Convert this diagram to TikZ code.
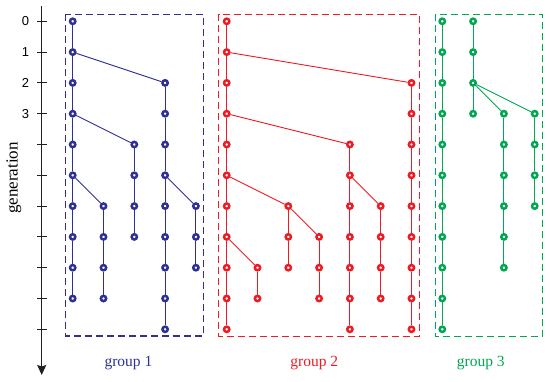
\documentclass[tikz,border=0pt]{standalone}
\usepackage{fontspec}
\setmainfont{Liberation Serif}
\newfontfamily\digitfont{Liberation Sans}
\usetikzlibrary{arrows.meta}
\definecolor{grpone}{HTML}{2E3192}
\definecolor{grptwo}{HTML}{ED1C24}
\definecolor{grpthree}{HTML}{00A651}
\definecolor{axisink}{HTML}{231F20}

\begin{document}
\begin{tikzpicture}[
  x=1pt, y=-1pt,
  cell/.style={circle, draw, fill=white, line width=2.5pt,
               minimum size=5.3pt, inner sep=0pt},
  link/.style={line width=0.9pt},
  frame/.style={line width=1.4pt, dash pattern=on 7pt off 4pt},
  grplab/.style={font=\fontsize{15.5}{18}\selectfont, anchor=base, inner sep=0pt},
  axlab/.style={font=\digitfont\fontsize{13}{15}\selectfont, inner sep=0pt},
  ar/.style={-{Stealth[length=10pt,width=9pt,inset=1.5pt]}, line width=1.1pt,
             draw=axisink},
]
\useasboundingbox (0,0) rectangle (550,382);

% ---------------- generation axis ----------------
\coordinate (axtop) at (41.7,6);
\coordinate (axbot) at (41.7,375);
\draw[ar] (axtop) -- (axbot);
\foreach \r in {0,...,10}
  \draw[line width=1pt, axisink] (37.3,{21.3+30.8*\r}) -- (46.7,{21.3+30.8*\r});
\foreach \r in {0,...,3}
  \node[axlab] (gen\r) at (25.5,{21.3+30.8*\r}) {\r};
\node[font=\fontsize{17}{20}\selectfont, rotate=90, anchor=base, inner sep=0pt]
  (genlab) at (17.5,178) {generation};

% ---------------- group 1 ----------------
\begin{scope}[grpone]
\draw[frame] (65.5,14.5) rectangle (203.3,336);
\foreach \c/\a/\b in {0/0/9, 1/6/9, 2/4/7, 3/2/10, 4/6/8} {
  \foreach \r [remember=\r as \p (initially \a)] in {\a,...,\b} {
    \node[cell] (g1c\c r\r) at ({72.7+30.8*\c},{21.3+30.8*\r}) {};
    \ifnum\r>\a \draw[link] (g1c\c r\p) -- (g1c\c r\r); \fi
  }
}
\draw[link] (g1c0r1) -- (g1c3r2);
\draw[link] (g1c0r3) -- (g1c2r4);
\draw[link] (g1c0r5) -- (g1c1r6);
\draw[link] (g1c3r5) -- (g1c4r6);
\node[grplab] (grp1) at (128.4,366.7) {group 1};
\end{scope}

% ---------------- group 2 ----------------
\begin{scope}[grptwo]
\draw[frame] (218.7,14.5) rectangle (419.3,336.5);
\foreach \c/\a/\b in {0/0/10, 1/8/9, 2/6/8, 3/7/9, 4/4/10, 5/6/9, 6/2/10} {
  \foreach \r [remember=\r as \p (initially \a)] in {\a,...,\b} {
    \node[cell] (g2c\c r\r) at ({226.7+30.8*\c},{21.3+30.8*\r}) {};
    \ifnum\r>\a \draw[link] (g2c\c r\p) -- (g2c\c r\r); \fi
  }
}
\draw[link] (g2c0r1) -- (g2c6r2);
\draw[link] (g2c0r3) -- (g2c4r4);
\draw[link] (g2c0r5) -- (g2c2r6);
\draw[link] (g2c0r7) -- (g2c1r8);
\draw[link] (g2c2r6) -- (g2c3r7);
\draw[link] (g2c4r5) -- (g2c5r6);
\node[grplab] (grp2) at (314.3,366.7) {group 2};
\end{scope}

% ---------------- group 3 ----------------
\begin{scope}[grpthree]
\draw[frame] (435.4,14.5) rectangle (542.7,336.5);
\foreach \c/\a/\b in {0/0/10, 1/0/3, 2/3/8, 3/3/6} {
  \foreach \r [remember=\r as \p (initially \a)] in {\a,...,\b} {
    \node[cell] (g3c\c r\r) at ({442.3+30.8*\c},{21.3+30.8*\r}) {};
    \ifnum\r>\a \draw[link] (g3c\c r\p) -- (g3c\c r\r); \fi
  }
}
\draw[link] (g3c1r2) -- (g3c2r3);
\draw[link] (g3c1r2) -- (g3c3r3);
\node[grplab] (grp3) at (480.8,366.7) {group 3};
\end{scope}

\end{tikzpicture}
\end{document}
